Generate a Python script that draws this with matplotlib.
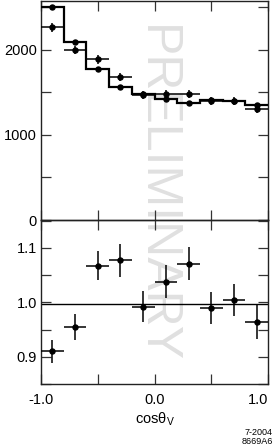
import numpy as np
import matplotlib
matplotlib.use("Agg")
import matplotlib.pyplot as plt
from matplotlib.ticker import MultipleLocator, FixedLocator

plt.rcParams['font.family'] = ['Liberation Sans', 'DejaVu Sans']
plt.rcParams['mathtext.fontset'] = 'custom'
plt.rcParams['mathtext.rm'] = 'Liberation Sans'
plt.rcParams['mathtext.it'] = 'Liberation Sans:italic'

# ---- data ----
bin_edges = [-1.0, -0.8, -0.6, -0.4, -0.2, 0.0, 0.2, 0.4, 0.6, 0.8, 1.0]
mc_counts = [2500, 2094, 1776, 1561, 1478, 1426, 1380, 1412, 1398, 1349]
mc_err = [28, 27, 26, 25, 25, 24, 24, 24, 24, 24]
data_counts = [2267, 2000, 1890, 1679, 1468, 1482, 1479, 1397, 1402, 1302]
data_err = [55, 52, 50, 48, 45, 45, 45, 44, 44, 43]
ratio = [0.910, 0.955, 1.067, 1.077, 0.992, 1.038, 1.071, 0.989, 1.004, 0.964]
ratio_err = [0.021, 0.024, 0.027, 0.030, 0.029, 0.031, 0.031, 0.029, 0.030, 0.031]
fit_level = 0.996
x_ticklabels = ["-1.0", "0.0", "1.0"]

edges = np.array(bin_edges)
centers = 0.5 * (edges[:-1] + edges[1:])
half = 0.5 * np.diff(edges)

W, H = 274, 446
fig = plt.figure(figsize=(W / 100, H / 100), dpi=100)

left = 41 / W
right = 268 / W
y_top = 1 - 1 / H
y_mid = 1 - 220 / H
y_bot = 1 - 384.3 / H

ax1 = fig.add_axes([left, y_mid, right - left, y_top - y_mid])
ax2 = fig.add_axes([left, y_bot, right - left, y_mid - y_bot])

for ax in (ax1, ax2):
    ax.set_facecolor('none')
    for s in ax.spines.values():
        s.set_linewidth(1.0)
        s.set_color('#222222')
    ax.tick_params(which='both', direction='in', top=True, right=True,
                   length=7, width=0.9, color='#333333', labelsize=10.5)
    ax.set_xlim(-1, 1)
    ax.xaxis.set_major_locator(FixedLocator([-1, 0, 1]))
    ax.xaxis.set_minor_locator(FixedLocator([-0.5, 0.5]))

# top panel
ax1.stairs(mc_counts, edges, baseline=None, color='black', lw=1.6, zorder=3)
ax1.errorbar(centers, mc_counts, yerr=mc_err, fmt='o', ms=3.6, color='black',
             elinewidth=1.1, capsize=0, zorder=4)
ax1.errorbar(centers, data_counts, xerr=half, yerr=data_err, fmt='o', ms=3.6,
             color='black', elinewidth=1.1, capsize=0, zorder=4)
ax1.set_ylim(0, 2576)
ax1.yaxis.set_major_locator(MultipleLocator(1000))
ax1.yaxis.set_minor_locator(MultipleLocator(500))
ax1.tick_params(axis='x', labelbottom=False)
ax1.tick_params(axis='y', pad=3)

# bottom panel
ax2.axhline(fit_level, color='black', lw=1.0, zorder=2)
ax2.errorbar(centers, ratio, xerr=half, yerr=ratio_err, fmt='o', ms=3.6,
             color='black', elinewidth=1.1, capsize=0, zorder=4)
ax2.set_ylim(0.8495, 1.151)
ax2.yaxis.set_major_locator(FixedLocator([0.9, 1.0, 1.1]))
ax2.yaxis.set_minor_locator(FixedLocator([0.85, 0.95, 1.05, 1.15]))
ax2.yaxis.set_major_formatter(plt.FuncFormatter(lambda v, p: f"{v:.1f}"))
ax2.set_xticklabels(x_ticklabels)
ax2.get_xticklabels()[-1].set_horizontalalignment('right')
ax2.tick_params(axis='y', pad=3)
ax2.tick_params(axis='x', pad=6)
ax2.set_xlabel('cosθ$_{\\mathrm{V}}$', fontsize=10.5, labelpad=3)

# watermark
fig.text(156 / W, 1 - 194 / H, 'PRELIMINARY', rotation=-90, fontsize=36,
         color='#e0e0e0', ha='center', va='center', zorder=-5)

fig.text(273 / W, 1 - 437 / H, '7-2004\n8669A6', fontsize=6.5, ha='right',
         va='center', linespacing=0.95)

fig.savefig('out.png', dpi=100)
